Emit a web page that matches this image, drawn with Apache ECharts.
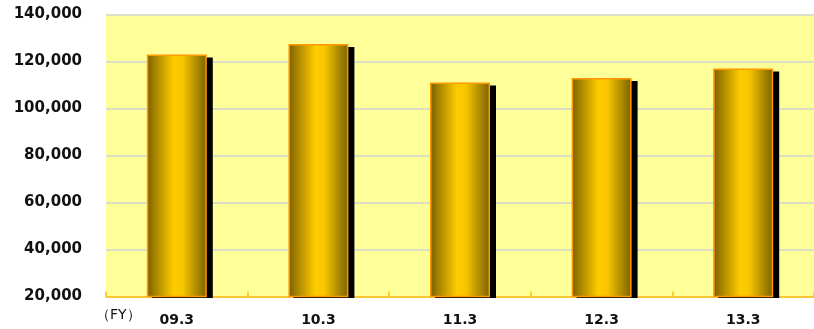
<!DOCTYPE html>
<html><head><meta charset="utf-8">
<script src="https://cdn.jsdelivr.net/npm/echarts@6/dist/echarts.min.js"></script>
<style>html,body{margin:0;padding:0;background:#fff}#c{width:814px;height:329px}</style>
</head><body><div id="c"></div>
<script>
const categories = ['09.3', '10.3', '11.3', '12.3', '13.3'];
const values = [123000, 127400, 111100, 113000, 117000];
const yMin = 20000, yMax = 140000, yStep = 20000;
const unitLabel = '（FY）';

const BAR_W = 60;
const chart = echarts.init(document.getElementById('c'), null, {renderer: 'canvas'});
const grad = new echarts.graphic.LinearGradient(0, 0, 1, 0, [
  {offset: 0, color: '#7a5c00'},
  {offset: 0.12, color: '#a07e00'},
  {offset: 0.45, color: '#ffcc00'},
  {offset: 0.6, color: '#f8c600'},
  {offset: 0.85, color: '#a88600'},
  {offset: 1, color: '#7a6200'}
]);
chart.setOption({
  animation: false,
  grid: {left: 106, right: 0, top: 14.5, bottom: 32.5, show: true, backgroundColor: '#ffff99', borderWidth: 0},
  xAxis: {
    type: 'category', data: categories,
    axisLine: {lineStyle: {color: '#ffc000', width: 1.5}},
    axisTick: {show: true, inside: true, length: 5, lineStyle: {color: '#ffc000', width: 1.5}},
    axisLabel: {margin: 17, fontFamily: 'DejaVu Sans', fontWeight: 'bold', fontSize: 14, color: '#111'},
    splitLine: {show: false}
  },
  yAxis: {
    type: 'value', min: yMin, max: yMax, interval: yStep,
    axisLine: {show: false}, axisTick: {show: false},
    axisLabel: {margin: 24, fontFamily: 'DejaVu Sans', fontWeight: 'bold', fontSize: 15, color: '#111',
      formatter: v => v.toLocaleString('en-US')},
    splitLine: {lineStyle: {color: '#d2d2d2', width: 1.5}}
  },
  series: [{
    type: 'custom', z: 1, silent: true, clip: false,
    data: values.map((v, i) => [i, v]),
    renderItem: (params, api) => {
      const top = api.coord([api.value(0), api.value(1)]);
      const bot = api.coord([api.value(0), yMin]);
      return {type: 'rect', shape: {x: top[0] - BAR_W / 2 + 5, y: top[1] + 3, width: BAR_W + 1, height: bot[1] - top[1] - 1.5},
        style: {fill: '#000'}};
    }
  }, {
    type: 'bar', data: values, barWidth: BAR_W, z: 2,
    itemStyle: {color: grad, borderColor: '#ff9900', borderWidth: 1.5}
  }],
  graphic: [{type: 'text', left: 96, top: 308, style: {text: unitLabel, fontFamily: 'DejaVu Sans', fontSize: 14, fill: '#111'}}]
});
</script></body></html>
